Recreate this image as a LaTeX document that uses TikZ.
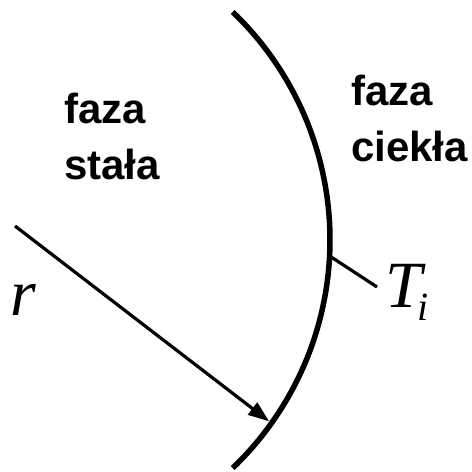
\documentclass[tikz,border=0pt]{standalone}
\usepackage{fontspec}
\setmainfont{Liberation Serif}
\setsansfont{Liberation Sans}
\usetikzlibrary{arrows.meta, positioning, calc}

\begin{document}
\begin{tikzpicture}[
  x=1pt, y=-1pt,
  phase/.style={inner sep=0pt, anchor=north west, align=left, font=\sffamily\bfseries\fontsize{42}{56}\selectfont},
  sym/.style={inner sep=0pt, anchor=base west, font=\rmfamily\itshape\fontsize{66}{70}\selectfont},
  front/.style={line width=5.5pt},
  arr/.style={-{Triangle[length=21pt, width=15pt]}, line width=3.2pt},
  tick/.style={line width=3.2pt}
]
\useasboundingbox (0,0) rectangle (472,472);
\coordinate (O) at (14,240);
\coordinate (rstart) at (15,226);
\coordinate (tickend) at (377,287);

% interface between the phases
\draw[front] (O) ++(-46.2:316) arc[start angle=-46.2, end angle=46.2, radius=316];
\coordinate (hit) at ($(O)+(35.4:313)$);
\coordinate (onarc) at ($(O)+(3:317)$);

\node[phase] (solid) at (64,93) {faza\\stała};
\node[phase] (liquid) at (351,75) {faza\\ciekła};
\node[sym] (r) at (10,315) {r};
\node[sym] (Ti) at (385,307) {T\kern-4pt\raisebox{-13pt}{\fontsize{40}{40}\selectfont i}};

\draw[arr] (rstart) -- (hit);
\draw[tick] (onarc) -- (tickend);
\end{tikzpicture}
\end{document}
